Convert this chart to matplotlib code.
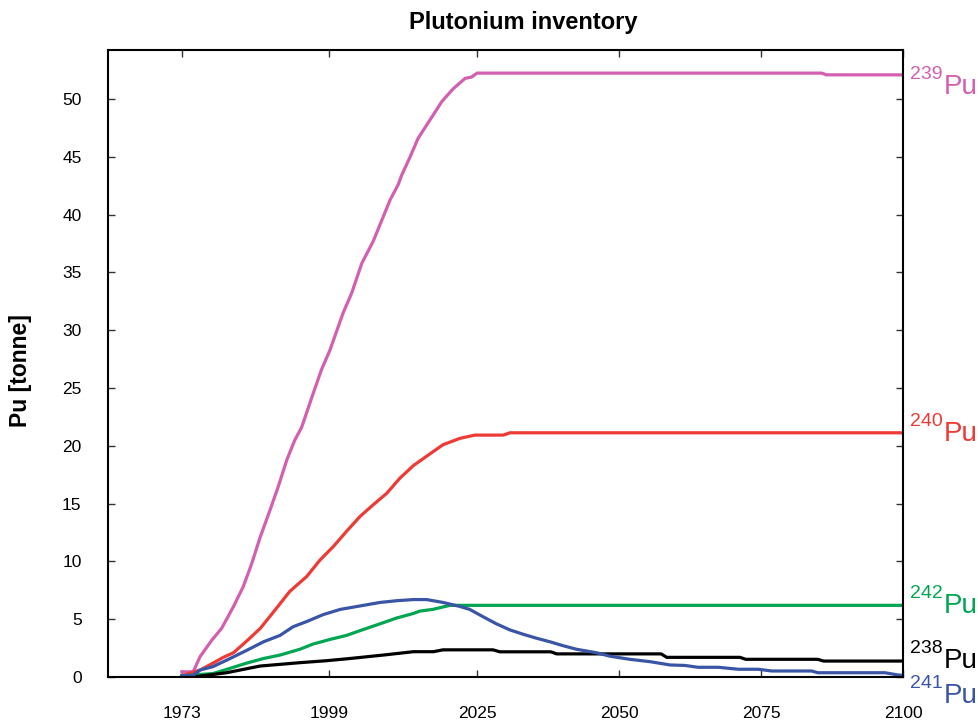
import matplotlib
matplotlib.use("Agg")
import matplotlib.pyplot as plt

plt.rcParams['font.family'] = ['Liberation Sans', 'DejaVu Sans']

# Pu-239
years_239 = [1973, 1975, 1976.2, 1978.3, 1980, 1982.1, 1983.8, 1985.3, 1986.8, 1988.5,
             1990, 1991.5, 1992.9, 1994.1, 1995.9, 1997.6, 1999.1, 2001.4, 2002.9, 2004.7,
             2006.7, 2008.2, 2009.7, 2011.1, 2011.7, 2013.2, 2014.6, 2016.7, 2018.8, 2020.8,
             2022.9, 2024, 2025, 2085.7, 2086.5, 2100]
pu_239 = [0.45, 0.45, 1.75, 3.2, 4.2, 6.1, 7.8, 9.8, 12.1, 14.4,
          16.5, 18.8, 20.5, 21.6, 24.2, 26.6, 28.3, 31.5, 33.2, 35.8,
          37.7, 39.5, 41.3, 42.6, 43.4, 45.0, 46.6, 48.2, 49.8, 50.9,
          51.8, 51.9, 52.25, 52.25, 52.1, 52.1]

# Pu-240
years_240 = [1973, 1976.2, 1978.5, 1980.3, 1982.1, 1984.4, 1986.8, 1989.1, 1992, 1995,
             1997.3, 1999.7, 2002, 2004.4, 2006.7, 2009.1, 2011.4, 2013.8, 2016.1, 2019,
             2022, 2024.6, 2029.6, 2030.8, 2100]
pu_240 = [0.1, 0.6, 1.2, 1.7, 2.1, 3.1, 4.2, 5.6, 7.4, 8.7,
          10.1, 11.3, 12.6, 13.9, 14.9, 15.9, 17.2, 18.3, 19.1, 20.1,
          20.65, 20.93, 20.93, 21.13, 21.13]

# Pu-242
years_242 = [1973, 1978.5, 1981.5, 1984.4, 1987.4, 1990.3, 1993.8, 1996.1, 1999.1, 2002,
             2004.9, 2007.9, 2010.8, 2013.8, 2014.9, 2017.2, 2020.2, 2100]
pu_242 = [0.1, 0.3, 0.75, 1.2, 1.6, 1.9, 2.4, 2.85, 3.25, 3.6,
          4.1, 4.6, 5.1, 5.5, 5.7, 5.85, 6.2, 6.2]

# Pu-238
years_238 = [1973, 1975, 1980.9, 1986.8, 1993.8, 1998.5, 2002.6, 2008.5, 2013.8, 2017.3,
             2019, 2027.8, 2029, 2038, 2039, 2057.4, 2058.4, 2071.3, 2072.3, 2085,
             2086, 2100]
pu_238 = [0.0, 0.0, 0.37, 0.95, 1.24, 1.41, 1.6, 1.9, 2.19, 2.19,
          2.35, 2.35, 2.18, 2.18, 2.0, 2.0, 1.7, 1.7, 1.53, 1.53,
          1.38, 1.38]

# Pu-241
years_241 = [1973, 1975, 1976.2, 1978.5, 1981.5, 1984.4, 1987.4, 1990.3, 1992.6, 1995,
             1997.9, 2000.9, 2005, 2007.9, 2010.8, 2013.8, 2016.1, 2019, 2022, 2023.7,
             2026.1, 2028.4, 2030.8, 2033.1, 2035.5, 2037.8, 2040.2, 2042.5, 2046, 2048.4,
             2051.9, 2055.4, 2059, 2061.6, 2063.9, 2067.5, 2071, 2074.5, 2076.9, 2083.9,
             2085, 2096.8, 2099.2, 2100]
pu_241 = [0.1, 0.15, 0.6, 0.9, 1.6, 2.3, 3.05, 3.6, 4.35, 4.8,
          5.4, 5.85, 6.2, 6.45, 6.6, 6.7, 6.7, 6.45, 6.1, 5.85,
          5.2, 4.6, 4.07, 3.7, 3.35, 3.05, 2.7, 2.4, 2.1, 1.8,
          1.53, 1.33, 1.04, 1.0, 0.84, 0.84, 0.67, 0.67, 0.52, 0.52,
          0.37, 0.37, 0.17, 0.15]

x_ticks = [1973, 1999, 2025, 2050, 2075, 2100]
y_ticks = list(range(0, 55, 5))

# (years, values, mass number, colour, label offset in pixels below the end value)
series = [
    (years_239, pu_239, '239', '#d35fb0', 18),
    (years_240, pu_240, '240', '#ee3a35', 7),
    (years_242, pu_242, '242', '#00a651', 7),
    (years_238, pu_238, '238', '#000000', 6),
    (years_241, pu_241, '241', '#3a55a6', 27),
]

fig = plt.figure(figsize=(9.79, 7.24), dpi=100)
ax = fig.add_axes([108 / 979, 1 - 677 / 724, 795 / 979, 627 / 724])

for yrs, vals, mass, col, drop in series:
    ax.plot(yrs, vals, color=col, lw=2.3, solid_joinstyle='round')

ax.set_xlim(1960, 2100)
ax.set_ylim(0, 54.25)
ax.set_xticks(x_ticks)
ax.set_yticks(y_ticks)
ax.tick_params(direction='in', length=5, width=1, color='#333333',
               top=True, right=True, labelsize=12.5)
ax.tick_params(axis='x', pad=21)
ax.tick_params(axis='y', pad=19)
for s in ax.spines.values():
    s.set_linewidth(1.5)

ax.set_ylabel('Pu [tonne]', fontsize=16.5, fontweight='bold')
ax.yaxis.set_label_coords(-0.096, 0.488)
fig.text(523 / 979, 1 - 23 / 724, 'Plutonium inventory', fontsize=17,
         fontweight='bold', ha='center', va='center')

# isotope names at the right end of each curve
for yrs, vals, mass, col, drop in series:
    num = ax.annotate(mass, xy=(1, vals[-1]), xycoords=('axes fraction', 'data'),
                      xytext=(7, -drop + 14), textcoords='offset pixels',
                      fontsize=14, color=col, ha='left', va='baseline',
                      annotation_clip=False)
    ax.annotate('Pu', xy=(1, 0), xycoords=num, xytext=(1, -11),
                textcoords='offset pixels', fontsize=20, color=col,
                ha='left', va='baseline', annotation_clip=False)

fig.savefig('out.png', dpi=100)
